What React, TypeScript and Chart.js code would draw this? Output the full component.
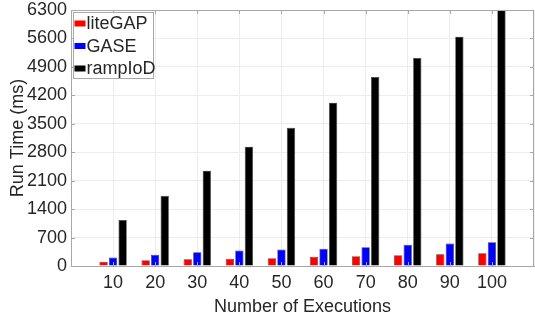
import { useEffect, useRef } from "react";
import { Chart, registerables } from "chart.js";

Chart.register(...registerables);

// Run time (ms) per number of executions
const executions = [10, 20, 30, 40, 50, 60, 70, 80, 90, 100];
const liteGAP = [107, 144, 165, 176, 193, 226, 242, 267, 288, 312];
const GASE = [210, 275, 336, 382, 406, 422, 460, 521, 555, 586];
const rampIoD = [1130, 1730, 2346, 2937, 3404, 4020, 4652, 5120, 5644, 6290];

const seriesNames = ["liteGAP", "GASE", "rampIoD"];
const seriesColors = ["#ff0000", "#0000ff", "#000000"];

const yMin = 0;
const yMax = 6300;
const yStep = 700;
const xMin = 0;
const xMax = 110;
const xStep = 10;

const FONT = "'Liberation Sans', Arial, Helvetica, sans-serif";
const TEXT = "#262626";
const AXIS = "#a8a8a8";
const GRID = "#ededed";

// Box around the axes with short inward ticks on all four sides
const framePlugin = {
  id: "frame",
  afterDatasetsDraw(chart: any) {
    const { ctx, chartArea } = chart;
    const xs = chart.scales.x;
    const ys = chart.scales.y;
    const { left, right, top, bottom } = chartArea;
    const len = 4;
    ctx.save();
    ctx.strokeStyle = AXIS;
    ctx.lineWidth = 1;
    ctx.beginPath();
    ctx.moveTo(left, top + 0.5);
    ctx.lineTo(right, top + 0.5);
    ctx.moveTo(right - 0.5, top);
    ctx.lineTo(right - 0.5, bottom);
    for (const v of executions) {
      const px = Math.round(xs.getPixelForValue(v)) + 0.5;
      ctx.moveTo(px, top);
      ctx.lineTo(px, top + len);
      ctx.moveTo(px, bottom);
      ctx.lineTo(px, bottom - len);
    }
    for (let v = yMin; v <= yMax; v += yStep) {
      const py = Math.round(ys.getPixelForValue(v)) + 0.5;
      ctx.moveTo(left, py);
      ctx.lineTo(left + len, py);
      ctx.moveTo(right, py);
      ctx.lineTo(right - len, py);
    }
    ctx.stroke();
    ctx.restore();
  },
};

// Legend box in the upper-left corner of the plot
const legendBoxPlugin = {
  id: "legendBox",
  afterDraw(chart: any) {
    const { ctx, chartArea } = chart;
    const x0 = chartArea.left + 2.5;
    const y0 = chartArea.top + 2.5;
    const w = 80;
    const h = 66;
    ctx.save();
    ctx.fillStyle = "#ffffff";
    ctx.fillRect(x0, y0, w, h);
    ctx.strokeStyle = AXIS;
    ctx.lineWidth = 1;
    ctx.strokeRect(x0, y0, w, h);
    ctx.font = `18px ${FONT}`;
    ctx.textBaseline = "middle";
    ctx.textAlign = "left";
    chart.data.datasets.forEach((ds: any, i: number) => {
      const cy = y0 + 11 + i * 22.5;
      ctx.fillStyle = ds.backgroundColor;
      ctx.fillRect(x0 + 1, cy - 3, 11, 6);
      ctx.fillStyle = TEXT;
      ctx.fillText(ds.label, x0 + 13, cy + 1);
    });
    ctx.restore();
  },
};

export default function App() {
  const canvasRef = useRef<HTMLCanvasElement>(null);

  useEffect(() => {
    if (!canvasRef.current) return;
    const series = [liteGAP, GASE, rampIoD];
    const chart = new Chart(canvasRef.current, {
      type: "bar",
      data: {
        datasets: series.map((vals, i) => ({
          label: seriesNames[i],
          data: executions.map((x, j) => ({ x, y: vals[j] })),
          backgroundColor: seriesColors[i],
          borderColor: "rgba(40,40,40,0.9)",
          borderWidth: 0.7,
          categoryPercentage: 0.68,
          barPercentage: 0.87,
        })),
      },
      options: {
        responsive: false,
        animation: false,
        devicePixelRatio: 1,
        layout: { padding: { top: 0, right: 3, left: 0, bottom: 0 } },
        plugins: {
          legend: { display: false },
          tooltip: { enabled: false },
        },
        scales: {
          x: {
            type: "linear",
            offset: false,
            min: xMin,
            max: xMax,
            afterFit(scale: any) {
              scale.height = 55;
            },
            afterBuildTicks(scale: any) {
              const t = [];
              for (let v = xMin; v <= xMax; v += xStep) t.push({ value: v });
              scale.ticks = t;
            },
            ticks: {
              stepSize: xStep,
              padding: 6,
              color: TEXT,
              font: { family: FONT, size: 18 },
              callback: (v: any) => (executions.includes(Number(v)) ? String(v) : ""),
            },
            grid: { color: GRID, drawTicks: false, offset: false },
            border: { display: true, color: AXIS },
            title: {
              display: true,
              text: "Number of Executions",
              color: TEXT,
              font: { family: FONT, size: 18 },
              padding: { top: 0, bottom: 3 },
            },
          },
          y: {
            min: yMin,
            max: yMax,
            afterFit(scale: any) {
              scale.width = 71;
            },
            ticks: {
              stepSize: yStep,
              padding: 4,
              color: TEXT,
              font: { family: FONT, size: 18, lineHeight: 12 / 18 },
              callback: (v: any) => String(v),
            },
            grid: { color: GRID, drawTicks: false },
            border: { display: true, color: AXIS },
            title: {
              display: true,
              text: "Run Time (ms)",
              color: TEXT,
              font: { family: FONT, size: 18 },
              padding: { top: 7, bottom: 0 },
            },
          },
        },
      },
      plugins: [framePlugin, legendBoxPlugin],
    } as any);
    return () => chart.destroy();
  }, []);

  return (
    <div
      style={{
        position: "fixed",
        left: 0,
        top: 0,
        width: 535,
        height: 321,
        overflow: "hidden",
        background: "#ffffff",
      }}
    >
      <canvas ref={canvasRef} width={540} height={321} />
    </div>
  );
}
